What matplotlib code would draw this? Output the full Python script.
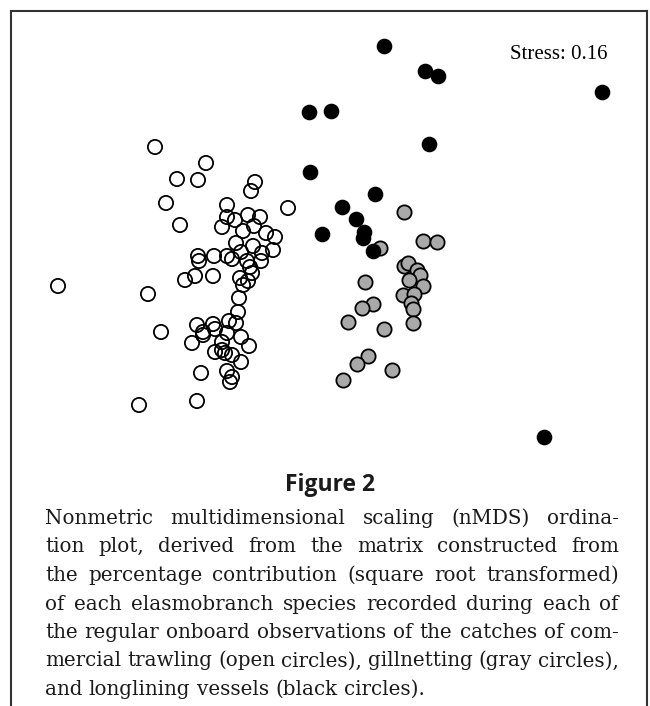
import matplotlib
matplotlib.use("Agg")
import matplotlib.pyplot as plt

# nMDS scores (arbitrary units)
trawl_x = [-2.82, -1.85, -1.34, -1.63, -1.42, -0.85, -0.89, -1.74, -0.52, -1.60,
           -1.13, -0.92, -0.80, -1.13, -1.05, -1.18, -0.97, -0.86, -0.74, -0.65,
           -1.04, -0.87, -0.67, -0.78, -0.99, -1.13, -1.08, -1.26, -1.42, -1.41,
           -0.93, -0.90, -0.79, -1.55, -1.45, -1.27, -1.00, -0.92, -0.88, -0.97,
           -1.92, -1.01, -1.02, -1.79, -1.43, -1.27, -1.11, -1.04, -1.37, -1.37,
           -1.48, -1.25, -1.13, -0.99, -1.18, -0.91, -1.25, -1.18, -1.15, -1.08,
           -0.99, -1.39, -1.13, -1.08, -1.10, -1.43, -2.01]
trawl_y = [-0.26, 1.13, 0.97, 0.81, 0.80, 0.78, 0.69, 0.57, 0.52, 0.35,
           0.55, 0.45, 0.43, 0.43, 0.40, 0.33, 0.29, 0.34, 0.27, 0.23,
           0.17, 0.14, 0.10, 0.07, 0.08, 0.04, 0.01, 0.04, 0.04, -0.01,
           -0.01, -0.07, -0.01, -0.20, -0.16, -0.16, -0.18, -0.21, -0.13, -0.25,
           -0.34, -0.38, -0.52, -0.72, -0.65, -0.64, -0.61, -0.63, -0.72, -0.75,
           -0.83, -0.69, -0.73, -0.77, -0.82, -0.86, -0.92, -0.90, -0.93, -0.95,
           -1.02, -1.13, -1.11, -1.17, -1.22, -1.41, -1.45]

gill_x = [0.64, 0.83, 0.97, 0.40, 0.64, 0.68, 0.77, 0.80, 0.69, 0.83,
          0.25, 0.63, 0.74, 0.71, 0.73, 0.73, 0.33, 0.22, 0.08, 0.44,
          0.28, 0.17, 0.03, 0.52]
gill_y = [0.48, 0.19, 0.18, 0.12, -0.06, -0.03, -0.10, -0.15, -0.20, -0.26,
          -0.22, -0.35, -0.34, -0.43, -0.49, -0.63, -0.44, -0.48, -0.62, -0.69,
          -0.96, -1.04, -1.20, -1.10]

long_x = [0.44, 0.85, 0.98, 2.62, -0.31, -0.09, 0.89, -0.30, 0.35, 0.02,
          0.16, 0.24, 0.23, -0.18, 0.33, 2.04]
long_y = [2.14, 1.89, 1.84, 1.68, 1.48, 1.49, 1.16, 0.88, 0.66, 0.53,
          0.41, 0.28, 0.22, 0.26, 0.09, -1.77]

stress_label = "Stress: 0.16"
fig_title = "Figure 2"
caption_lines = [
    "Nonmetric multidimensional scaling (nMDS) ordina-",
    "tion plot, derived from the matrix constructed from",
    "the percentage contribution (square root transformed)",
    "of each elasmobranch species recorded during each of",
    "the regular onboard observations of the catches of com-",
    "mercial trawling (open circles), gillnetting (gray circles),",
    "and longlining vessels (black circles).",
]

W, H = 650, 706
fig = plt.figure(figsize=(W / 100, H / 100), dpi=100)
ax = fig.add_axes([11 / W, 0, (647 - 11) / W, (706 - 11) / H])
ax.set_xlim(-3.29, 3.07)
ax.set_ylim(-4.46, 2.49)
ax.set_xticks([])
ax.set_yticks([])
for side in ["left", "top", "right"]:
    ax.spines[side].set_linewidth(1.5)
    ax.spines[side].set_color("#333333")
ax.spines["bottom"].set_visible(False)

ms = 105
ax.scatter(trawl_x, trawl_y, s=ms, facecolors="none", edgecolors="black",
           linewidths=1.3, zorder=2)
ax.scatter(gill_x, gill_y, s=ms, facecolors="#a9a9a9", edgecolors="black",
           linewidths=1.3, zorder=3)
ax.scatter(long_x, long_y, s=ms, facecolors="black", edgecolors="black",
           linewidths=1.0, zorder=4)

fig.text(608 / W, 1 - 59 / H, stress_label, ha="right", va="baseline",
         family="Liberation Serif", fontsize=15)

fig.text(330 / W, 1 - 491 / H, fig_title, ha="center", va="baseline",
         family="Open Sans", fontweight="bold", fontsize=16.5, color="#1a1a1a")

# justified caption
renderer = fig.canvas.get_renderer()
left, right = 45, 619
cap_kw = dict(family="DejaVu Serif", fontsize=14.3, color="#1a1a1a", va="baseline")
probe = fig.text(0, 0, "a a", **cap_kw)
probe1 = fig.text(0, 0, "aa", **cap_kw)
space_w = (probe.get_window_extent(renderer).width
           - probe1.get_window_extent(renderer).width)
probe.remove()
probe1.remove()
for i, line in enumerate(caption_lines):
    y = 1 - (524 + i * 28.5) / H
    words = line.split()
    texts = [fig.text(0, y, w, **cap_kw) for w in words]
    widths = [t.get_window_extent(renderer).width for t in texts]
    if i < len(caption_lines) - 1:
        gap = (right - left - sum(widths)) / (len(words) - 1)
    else:
        gap = space_w
    x = left
    for t, w in zip(texts, widths):
        t.set_position((x / W, y))
        x += w + gap

fig.savefig("out.png", dpi=100)
